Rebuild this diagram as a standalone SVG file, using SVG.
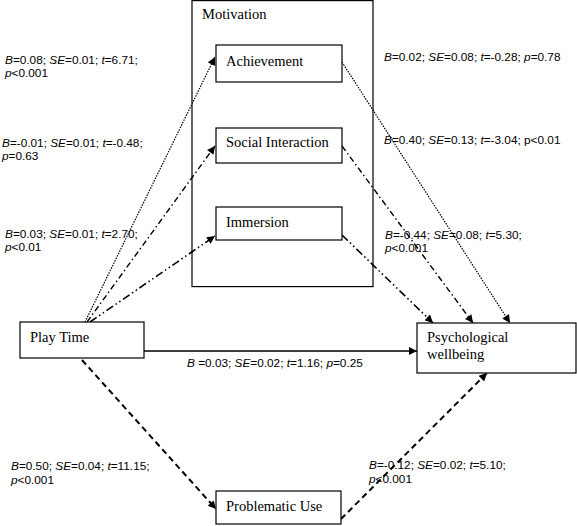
<svg xmlns="http://www.w3.org/2000/svg" width="577" height="526" viewBox="0 0 577 526">
<style>
.box{fill:#fff;stroke:#000;stroke-width:1.2}
.frame{fill:none;stroke:#000;stroke-width:1.2}
.nt{font-family:"Liberation Serif","Times New Roman",serif;font-size:14.5px;fill:#000}
.lb{font-family:"Liberation Sans",Arial,sans-serif;font-size:11.8px;fill:#000}
.c{fill:none;stroke:#000}
.dot{stroke-width:1.2;stroke-dasharray:1.5 1.2}
.dd{stroke-width:1.4;stroke-dasharray:6 3 1.5 3}
.ddd{stroke-width:1.6;stroke-dasharray:8 3 1.5 3 1.5 3}
.dash{stroke-width:2;stroke-dasharray:6 4}
.sol{stroke-width:1.3}
</style>
<defs>
<marker id="ah" viewBox="0 0 10 10" refX="10" refY="5" markerWidth="9" markerHeight="8" markerUnits="userSpaceOnUse" orient="auto">
<path d="M0,0 L10,5 L0,10 Z" fill="#000"/>
</marker>
</defs>
<g id="motivation">
<rect class="frame" x="192" y="0.6" width="181" height="286"/>
<text class="nt" x="202" y="19">Motivation</text>
</g>
<g id="connectors">
<line class="c dot" x1="85" y1="322" x2="215" y2="57" marker-end="url(#ah)"/>
<line class="c dd" x1="87" y1="322" x2="215" y2="146" marker-end="url(#ah)"/>
<line class="c ddd" x1="90" y1="322" x2="215" y2="236" marker-end="url(#ah)"/>
<line class="c dot" x1="342" y1="62" x2="510" y2="323" marker-end="url(#ah)"/>
<line class="c dd" x1="342" y1="146" x2="473" y2="323" marker-end="url(#ah)"/>
<line class="c ddd" x1="342" y1="235" x2="433" y2="323" marker-end="url(#ah)"/>
<line class="c sol" x1="144" y1="351" x2="417" y2="351" marker-end="url(#ah)"/>
<line class="c dash" x1="82" y1="360" x2="216" y2="509" marker-end="url(#ah)"/>
<line class="c dash" x1="341" y1="519" x2="487" y2="373" marker-end="url(#ah)"/>
</g>
<g id="achievement">
<rect class="box" x="216" y="45" width="126" height="37"/>
<text class="nt" x="226" y="66">Achievement</text>
</g>
<g id="social">
<rect class="box" x="216" y="128" width="126" height="35"/>
<text class="nt" x="226" y="147">Social Interaction</text>
</g>
<g id="immersion">
<rect class="box" x="216" y="207" width="126" height="33"/>
<text class="nt" x="226" y="227">Immersion</text>
</g>
<g id="playtime">
<rect class="box" x="20" y="322" width="124" height="36"/>
<text class="nt" x="30" y="342">Play Time</text>
</g>
<g id="wellbeing">
<rect class="box" x="417" y="323" width="159" height="50"/>
<text class="nt" x="427" y="342">Psychological</text>
<text class="nt" x="427" y="359">wellbeing</text>
</g>
<g id="problematic">
<rect class="box" x="216" y="491" width="125" height="33"/>
<text class="nt" x="226" y="511">Problematic Use</text>
</g>
<g id="labels">
<text class="lb" x="5" y="64"><tspan font-style="italic">B</tspan>=0.08; <tspan font-style="italic">SE</tspan>=0.01; <tspan font-style="italic">t</tspan>=6.71;</text>
<text class="lb" x="5" y="77"><tspan font-style="italic">p</tspan>&lt;0.001</text>
<text class="lb" x="2" y="147"><tspan font-style="italic">B</tspan>=-0.01; <tspan font-style="italic">SE</tspan>=0.01; <tspan font-style="italic">t</tspan>=-0.48;</text>
<text class="lb" x="2" y="160"><tspan font-style="italic">p</tspan>=0.63</text>
<text class="lb" x="5" y="238"><tspan font-style="italic">B</tspan>=0.03; <tspan font-style="italic">SE</tspan>=0.01; <tspan font-style="italic">t</tspan>=2.70;</text>
<text class="lb" x="5" y="251"><tspan font-style="italic">p</tspan>&lt;0.01</text>
<text class="lb" x="384" y="61"><tspan font-style="italic">B</tspan>=0.02; <tspan font-style="italic">SE</tspan>=0.08; <tspan font-style="italic">t</tspan>=-0.28; <tspan font-style="italic">p</tspan>=0.78</text>
<text class="lb" x="384" y="144"><tspan font-style="italic">B</tspan>=0.40; <tspan font-style="italic">SE</tspan>=0.13; <tspan font-style="italic">t</tspan>=-3.04; p&lt;0.01</text>
<text class="lb" x="385" y="239"><tspan font-style="italic">B</tspan>=-0.44; <tspan font-style="italic">SE</tspan>=0.08; <tspan font-style="italic">t</tspan>=5.30;</text>
<text class="lb" x="385" y="252"><tspan font-style="italic">p</tspan>&lt;0.001</text>
<text class="lb" x="187" y="367"><tspan font-style="italic">B</tspan> =0.03; <tspan font-style="italic">SE</tspan>=0.02; <tspan font-style="italic">t</tspan>=1.16; <tspan font-style="italic">p</tspan>=0.25</text>
<text class="lb" x="11" y="470"><tspan font-style="italic">B</tspan>=0.50; <tspan font-style="italic">SE</tspan>=0.04; <tspan font-style="italic">t</tspan>=11.15;</text>
<text class="lb" x="11" y="484"><tspan font-style="italic">p</tspan>&lt;0.001</text>
<text class="lb" x="369" y="469"><tspan font-style="italic">B</tspan>=-0.12; <tspan font-style="italic">SE</tspan>=0.02; <tspan font-style="italic">t</tspan>=5.10;</text>
<text class="lb" x="369" y="483"><tspan font-style="italic">p</tspan>&lt;0.001</text>
</g>
</svg>
